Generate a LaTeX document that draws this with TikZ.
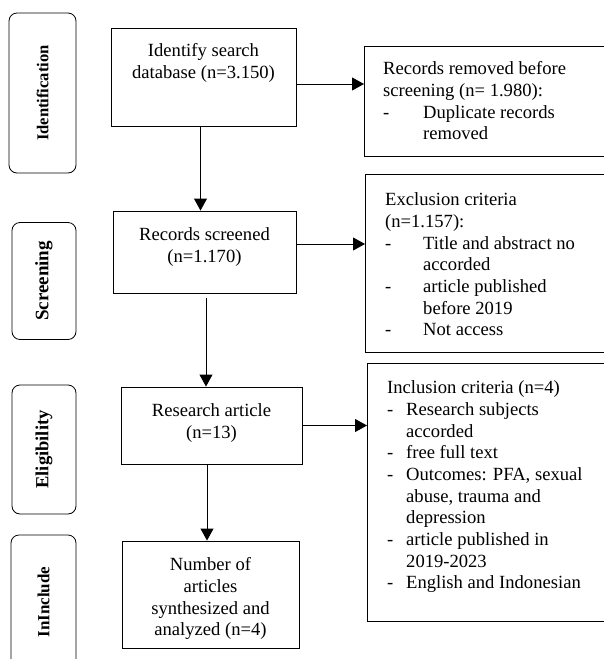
\documentclass[tikz,border=0pt]{standalone}
\usepackage{fontspec}
\setmainfont{Liberation Serif}
\usetikzlibrary{positioning, arrows.meta}

\newcommand{\dashitem}[1]{\makebox[#1][l]{-}}

\begin{document}
\begin{tikzpicture}[
  x=1pt, y=-1pt,
  font=\fontsize{18.6}{21.7}\selectfont,
  stage/.style={draw, rounded corners=8pt, line width=0.8pt, rotate=90,
                inner sep=0pt, font=\fontsize{#1}{19}\selectfont\bfseries},
  stage/.default=18.5,
  box/.style={draw, line width=0.9pt, inner sep=0pt},
  txt/.style={align=center, inner sep=0pt},
  note/.style={align=left, inner sep=0pt},
  flow/.style={-{Triangle[length=12pt, width=13pt]}, line width=0.9pt},
]
\useasboundingbox (0,0) rectangle (604,659);
\clip (0,0) rectangle (604,659);

% Stages
\node[stage=16.6, minimum width=160pt, minimum height=67pt] (S1) at (42.5, 93)  {Identification};
\node[stage=19,   minimum width=117pt, minimum height=64pt] (S2) at (44, 281)   {Screening};
\node[stage=18.5, minimum width=129pt, minimum height=64pt] (S3) at (44, 449.5) {Eligibility};
\node[stage=17,   minimum width=134pt, minimum height=65pt] (S4) at (43.5, 602) {InInclude};

% Main flow
\node[box, minimum width=185pt, minimum height=98pt]  (ident)  at (203.5, 77)    {};
\node[box, minimum width=183pt, minimum height=82pt]  (screen) at (204.5, 252)   {};
\node[box, minimum width=181pt, minimum height=77pt]  (resart) at (211.5, 425.5) {};
\node[box, minimum width=177pt, minimum height=107pt] (synth)  at (210.5, 594.5) {};

\node[txt, below=16pt of ident.north]  (identT)  {Identify search\\database (n=3.150)};
\node[txt, below=17pt of screen.north] (screenT) {Records screened\\(n=1.170)};
\node[txt, below=17pt of resart.north] (resartT) {Research article\\(n=13)};
\node[txt, below=17pt of synth.north]  (synthT)
  {Number of\\articles\\synthesized and\\analyzed (n=4)};

% Side boxes
\node[box, anchor=west, minimum width=280pt, minimum height=110pt] (removed) at (364, 101) {};
\node[box, anchor=west, minimum width=280pt, minimum height=178pt] (exclude) at (365, 263) {};
\node[box, anchor=west, minimum width=280pt, minimum height=258pt] (include) at (367, 492) {};

\node[note, below right=16pt and 19pt of removed.north west] (removedT)
  {Records removed before\\
   screening (n= 1.980):\\
   \dashitem{40pt}Duplicate records\\
   \hspace*{40pt}removed};
\node[note, below right=19pt and 20pt of exclude.north west] (excludeT)
  {Exclusion criteria\\
   (n=1.157):\\
   \dashitem{38pt}Title and abstract no\\
   \hspace*{38pt}accorded\\
   \dashitem{38pt}article published\\
   \hspace*{38pt}before 2019\\
   \dashitem{38pt}Not access};
\node[note, below right=18pt and 20pt of include.north west] (includeT)
  {Inclusion criteria (n=4)\\
   \dashitem{19pt}Research subjects\\
   \hspace*{19pt}accorded\\
   \dashitem{19pt}free full text\\
   \dashitem{19pt}Outcomes: PFA, sexual\\
   \hspace*{19pt}abuse, trauma and\\
   \hspace*{19pt}depression\\
   \dashitem{19pt}article published in\\
   \hspace*{19pt}2019-2023\\
   \dashitem{19pt}English and Indonesian};

% Arrows down
\draw[flow] ([xshift=-3pt]ident.south) -- ([xshift=-3pt]ident.south |- screen.north);
\draw[flow] ([xshift=1.5pt, yshift=-5pt]screen.south) -- ([xshift=1.5pt]screen.south |- resart.north);
\draw[flow] ([xshift=-4.5pt]resart.south) -- ([xshift=-4.5pt]resart.south |- synth.north);

% Arrows right
\draw[flow] ([yshift=-7pt]ident.east) -- ([yshift=-7pt]ident.east -| removed.west);
\draw[flow] ([yshift=8pt]screen.east) -- ([yshift=8pt]screen.east -| exclude.west);
\draw[flow] (resart.east) -- (resart.east -| include.west);
\end{tikzpicture}
\end{document}
